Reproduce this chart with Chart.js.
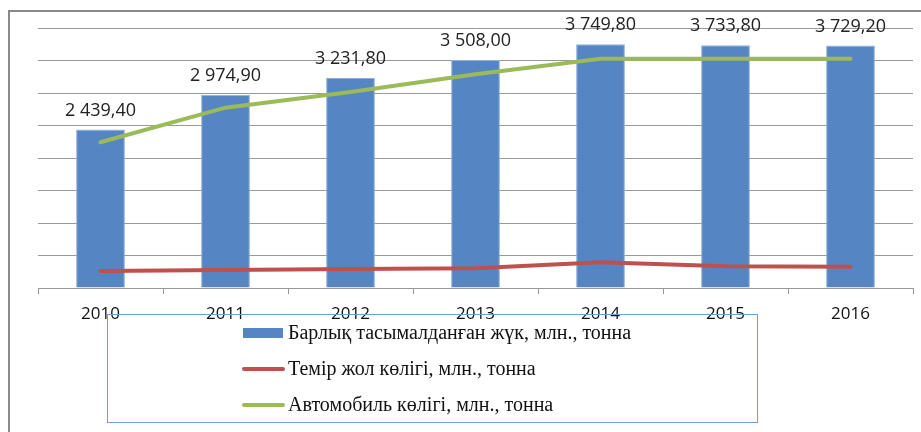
<!DOCTYPE html>
<html lang="kk">
<head>
    <meta charset="UTF-8">
    <title>Жүк тасымалы</title>
    <script src="https://cdn.jsdelivr.net/npm/chart.js@4"></script>
    <style>
        html, body { margin: 0; padding: 0; background: #fff; }
        #wrap { position: relative; width: 921px; height: 432px; overflow: hidden; }
    </style>
</head>
<body>
<div id="wrap"><canvas id="chart" width="921" height="432"></canvas></div>
<script>
    // данные
    const years = ['2010', '2011', '2012', '2013', '2014', '2015', '2016'];
    const totalCargo = [2439.4, 2974.9, 3231.8, 3508.0, 3749.8, 3733.8, 3729.2];
    const railway = [262, 277, 292, 303, 395, 334, 328];
    const automobile = [2242, 2774, 3015, 3288, 3528, 3528, 3528];
    const yTicks = { min: 0, max: 4000, step: 500 };

    const seriesNames = [
        'Барлық тасымалданған жүк, млн., тонна',
        'Темір жол көлігі, млн., тонна',
        'Автомобиль көлігі, млн., тонна'
    ];

    const BLUE = '#5586c3';
    const RED = '#c0504d';
    const GREEN = '#9bbb59';
    const GRID = '#999999';

    function fmt(v) {
        const s = v.toFixed(2).split('.');
        const int = s[0].replace(/\B(?=(\d{3})+(?!\d))/g, ' ');
        return int + ',' + s[1];
    }

    // рамка вокруг всей диаграммы
    const framePlugin = {
        id: 'frame',
        beforeDraw(chart) {
            const ctx = chart.ctx;
            ctx.save();
            ctx.strokeStyle = '#8a8a8a';
            ctx.lineWidth = 2;
            ctx.beginPath();
            ctx.moveTo(9, 432);
            ctx.lineTo(9, 11);
            ctx.lineTo(921, 11);
            ctx.stroke();
            ctx.restore();
        }
    };

    // подписи над столбцами
    const barLabels = {
        id: 'barLabels',
        afterDatasetsDraw(chart) {
            const ctx = chart.ctx;
            const meta = chart.getDatasetMeta(0);
            ctx.save();
            ctx.font = '18px "Open Sans"';
            ctx.fillStyle = '#222';
            ctx.textAlign = 'center';
            ctx.textBaseline = 'middle';
            meta.data.forEach((bar, i) => {
                ctx.fillText(fmt(totalCargo[i]), bar.x, bar.y - 19);
            });
            ctx.restore();
        }
    };

    // легенда в рамке
    const boxLegend = {
        id: 'boxLegend',
        afterDraw(chart) {
            const ctx = chart.ctx;
            ctx.save();
            ctx.strokeStyle = '#6f9fd8';
            ctx.lineWidth = 1;
            ctx.strokeRect(107.5, 314.5, 650, 108);
            ctx.font = '20px "Liberation Serif"';
            ctx.textBaseline = 'middle';
            chart.data.datasets.forEach((ds, i) => {
                const y = 333 + i * 36;
                if (ds.type === 'bar') {
                    ctx.fillStyle = ds.backgroundColor;
                    ctx.fillRect(243, y - 5, 40, 10);
                } else {
                    ctx.strokeStyle = ds.borderColor;
                    ctx.lineWidth = 4;
                    ctx.lineCap = 'round';
                    ctx.beginPath();
                    ctx.moveTo(244, y);
                    ctx.lineTo(283, y);
                    ctx.stroke();
                }
                ctx.fillStyle = '#111';
                ctx.fillText(ds.label, 288, y + 1);
            });
            ctx.restore();
        }
    };

    new Chart(document.getElementById('chart'), {
        data: {
            labels: years,
            datasets: [
                {
                    type: 'bar',
                    label: seriesNames[0],
                    data: totalCargo,
                    backgroundColor: BLUE,
                    borderColor: '#8fb0dc',
                    borderWidth: { left: 1, right: 1, top: 1, bottom: 0 },
                    categoryPercentage: 1,
                    barPercentage: 0.39,
                    order: 2
                },
                {
                    type: 'line',
                    label: seriesNames[1],
                    data: railway,
                    borderColor: RED,
                    borderWidth: 4,
                    borderCapStyle: 'round',
                    pointRadius: 0,
                    tension: 0,
                    order: 1
                },
                {
                    type: 'line',
                    label: seriesNames[2],
                    data: automobile,
                    borderColor: GREEN,
                    borderWidth: 4,
                    borderCapStyle: 'round',
                    pointRadius: 0,
                    tension: 0,
                    order: 0
                }
            ]
        },
        options: {
            responsive: false,
            animation: false,
            layout: { padding: { left: 38, right: 8, top: 28, bottom: 104 } },
            plugins: {
                legend: { display: false },
                tooltip: { enabled: false }
            },
            scales: {
                x: {
                    grid: { offset: true, drawOnChartArea: false, tickLength: 6, color: GRID },
                    border: { color: GRID },
                    ticks: { color: '#111', font: { family: 'Open Sans', size: 17 }, padding: 10 },
                    afterFit(s) { s.height = 40; }
                },
                y: {
                    min: yTicks.min,
                    max: yTicks.max,
                    ticks: { display: false, stepSize: yTicks.step },
                    grid: { color: GRID, drawTicks: false },
                    border: { display: false },
                    afterFit(s) { s.width = 0; }
                }
            }
        },
        plugins: [framePlugin, barLabels, boxLegend]
    });
</script>
</body>
</html>
